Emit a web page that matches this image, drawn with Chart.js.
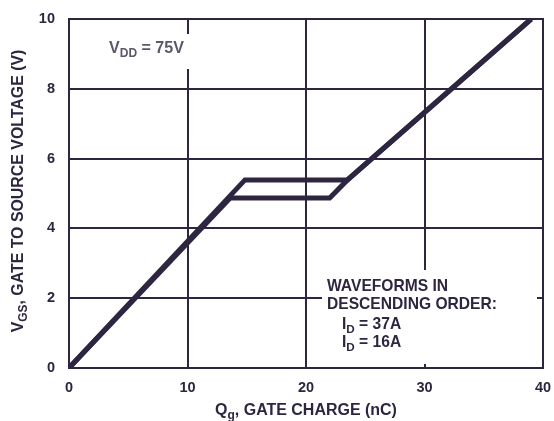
<!DOCTYPE html>
<html><head><meta charset="utf-8">
<script src="https://cdn.jsdelivr.net/npm/chart.js@4.4.0/dist/chart.umd.min.js"></script>
<style>html,body{margin:0;padding:0;background:#fff}#wrap{width:554px;height:421px}</style>
</head><body><div id="wrap"><canvas id="c" width="554" height="421"></canvas></div>
<script>
const xTicks = [0, 10, 20, 30, 40];
const yTicks = [0, 2, 4, 6, 8, 10];
const qId37 = [0, 14.85, 23.5, 39];
const vId37 = [0, 5.39, 5.39, 10];
const qId16 = [0, 13.6, 22.0, 23.5, 39];
const vId16 = [0, 4.87, 4.87, 5.39, 10];
const seriesLabels = ['I_D = 37A', 'I_D = 16A'];

const INK = '#2e2640';
const FONT = '"Liberation Sans", Arial, sans-serif';

function pts(xs, ys){ return xs.map((x,i)=>({x:x, y:ys[i]})); }

function partsWidth(ctx, parts, size){
  let t = 0;
  parts.forEach(p=>{ ctx.font = 'bold ' + (p[1]? size*0.75 : size) + 'px ' + FONT; t += ctx.measureText(p[0]).width; });
  return t;
}
function subText(ctx, parts, x, y, size, align){
  const total = partsWidth(ctx, parts, size);
  let cx = align==='center' ? x - total/2 : x;
  parts.forEach(p=>{
    ctx.font = 'bold ' + (p[1]? size*0.75 : size) + 'px ' + FONT;
    ctx.textAlign = 'left';
    ctx.fillText(p[0], cx, y + (p[1]? size*0.32 : 0));
    cx += ctx.measureText(p[0]).width;
  });
}
function fitSize(ctx, parts, target){
  return 14 * target / partsWidth(ctx, parts, 14);
}

const overlay = {
  id: 'overlay',
  beforeDatasetsDraw(chart){
    const ctx = chart.ctx;
    ctx.save();
    ctx.fillStyle = '#ffffff';
    ctx.fillRect(322, 270, 215, 94);
    ctx.fillRect(100, 34, 100, 35);
    ctx.restore();
  },
  afterDraw(chart){
    const ctx = chart.ctx;
    ctx.save();
    ctx.fillStyle = INK;
    ctx.textBaseline = 'middle';
    const xt = [['Q',false],['g',true],[', GATE CHARGE (nC)',false]];
    subText(ctx, xt, 306, 411, fitSize(ctx, xt, 182), 'center');
    const yt = [['V',false],['GS',true],[', GATE TO SOURCE VOLTAGE (V)',false]];
    ctx.save();
    ctx.translate(19, 191);
    ctx.rotate(-Math.PI/2);
    subText(ctx, yt, 0, 0, fitSize(ctx, yt, 283), 'center');
    ctx.restore();
    ctx.fillStyle = '#5e576a';
    const vd = [['V',false],['DD',true],[' = 75V',false]];
    subText(ctx, vd, 109, 49, fitSize(ctx, vd, 75), 'left');
    ctx.fillStyle = INK;
    const l2 = [['DESCENDING ORDER:',false]];
    const bs = fitSize(ctx, l2, 170);
    subText(ctx, [['WAVEFORMS IN',false]], 327, 287, bs, 'left');
    subText(ctx, l2, 327, 305, bs, 'left');
    seriesLabels.forEach((s,i)=>{
      const [a,b] = s.split('_');
      subText(ctx, [[a,false],[b.charAt(0),true],[b.slice(1),false]], 342, 325 + i*18, bs, 'left');
    });
    ctx.restore();
  }
};

new Chart(document.getElementById('c'), {
  type: 'scatter',
  data: { datasets: [
    { label: seriesLabels[0], data: pts(qId37, vId37), showLine: true, borderColor: INK, borderWidth: 5, pointRadius: 0, borderJoinStyle: 'miter', borderCapStyle: 'butt', tension: 0 },
    { label: seriesLabels[1], data: pts(qId16, vId16), showLine: true, borderColor: INK, borderWidth: 5, pointRadius: 0, borderJoinStyle: 'miter', borderCapStyle: 'butt', tension: 0 }
  ]},
  options: {
    responsive: false, animation: false, devicePixelRatio: 1,
    layout: { padding: { left: 0, right: 11, top: 19, bottom: 0 } },
    plugins: { legend: { display: false }, tooltip: { enabled: false } },
    scales: {
      x: {
        type: 'linear', min: 0, max: 40,
        afterBuildTicks(s){ s.ticks = xTicks.map(v=>({value:v})); },
        afterFit(s){ s.height = 53; s.paddingLeft = 0; s.paddingRight = 0; },
        grid: { color: INK, lineWidth: 2, drawTicks: false },
        border: { color: INK, width: 2 },
        ticks: { color: INK, font: { family: FONT, size: 14.5, weight: 'bold' }, padding: 11, maxRotation: 0 }
      },
      y: {
        type: 'linear', min: 0, max: 10,
        afterBuildTicks(s){ s.ticks = yTicks.map(v=>({value:v})); },
        afterFit(s){ s.width = 69; s.paddingTop = 0; s.paddingBottom = 0; },
        grid: { color: INK, lineWidth: 2, drawTicks: false },
        border: { color: INK, width: 2 },
        ticks: { color: INK, font: { family: FONT, size: 14.5, weight: 'bold' }, padding: 14 }
      }
    }
  },
  plugins: [overlay, {
    id: 'frame',
    afterDatasetsDraw(chart){
      const a = chart.chartArea, ctx = chart.ctx;
      ctx.save(); ctx.strokeStyle = INK; ctx.lineWidth = 2;
      ctx.strokeRect(a.left, a.top, a.right - a.left, a.bottom - a.top);
      ctx.restore();
    }
  }]
});
</script></body></html>
